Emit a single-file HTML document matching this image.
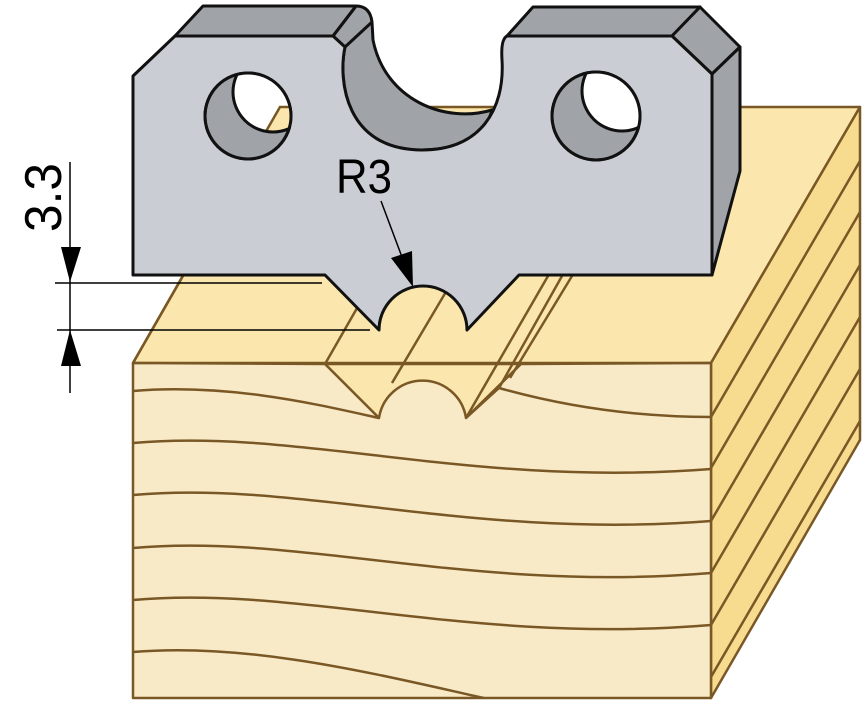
<!DOCTYPE html>
<html><head><meta charset="utf-8"><style>html,body{margin:0;padding:0;background:#fff;}svg{display:block}</style></head>
<body>
<svg width="868" height="705" viewBox="0 0 868 705" xmlns="http://www.w3.org/2000/svg">
<defs>
<clipPath id="rf"><polygon points="711,363 860,107 860,440 711,698"/></clipPath>
<clipPath id="h1"><circle cx="248" cy="116" r="43"/></clipPath>
<clipPath id="w1"><circle cx="273" cy="92" r="40"/></clipPath>
<clipPath id="h2"><circle cx="596" cy="116" r="44"/></clipPath>
<clipPath id="w2"><circle cx="622" cy="91" r="40"/></clipPath>
</defs>
<g stroke="#7a5826" stroke-width="2.5" stroke-linejoin="round">
<polygon points="133,363 280,107 860,107 711,363" fill="#fbe7ad"/>
<polygon points="711,363 860,107 860,440 711,698" fill="#f7dc90"/>
<g clip-path="url(#rf)" fill="none">
<line x1="711" y1="417" x2="860" y2="161"/>
<line x1="711" y1="468" x2="860" y2="212"/>
<line x1="711" y1="521" x2="860" y2="265"/>
<line x1="711" y1="573" x2="860" y2="317"/>
<line x1="711" y1="625" x2="860" y2="369"/>
<line x1="711" y1="677" x2="860" y2="421"/>
</g>
<polygon points="325,364 379,418 466,418 521,364" fill="#fbe7ad"/>
<path d="M133,363 L325,364 L379,418 A44,44 0 0 1 466,418 L521,364 L711,363 L711,698 L133,698 Z" fill="#f9eac7"/>
<g fill="none">
<path d="M133,391 C230,383 320,405 379,418"/>
<path d="M499,388 C570,408 640,417 711,417"/>
<path d="M133,443 C300,428 470,488 711,469"/>
<path d="M133,495 C300,480 470,540 711,521"/>
<path d="M133,548 C300,533 470,593 711,573"/>
<path d="M133,600 C300,585 470,645 711,625"/>
<path d="M133,652 C250,642 380,675 484,698"/>
<line x1="325" y1="364" x2="372" y2="282"/>
<line x1="392" y1="383" x2="450" y2="285"/>
<line x1="466" y1="418" x2="548" y2="276"/>
<line x1="466" y1="418" x2="499" y2="388"/>
<line x1="499" y1="388" x2="562" y2="276"/>
<line x1="510" y1="378" x2="572" y2="276"/>
<line x1="133" y1="363" x2="185" y2="272"/>
</g>
</g>
<g stroke="#111" stroke-width="3" stroke-linejoin="round">
<path d="M333,36 L345,47 C338,80 345,150 422,150 C466,150 488,128 492,110 C445,124 385,100 373,40 L372,22 Q370,6 356,6 Z" fill="#a0a3a8"/>
<polygon points="175,36 203,6 356,6 333,36" fill="#a0a3a8"/>
<polygon points="507,36 533,7 700,7 672,36" fill="#a0a3a8"/>
<polygon points="672,36 700,7 740,47 712,74" fill="#a0a3a8"/>
<polygon points="712,74 740,47 740,171 712,275" fill="#a0a3a8"/>
<line x1="333" y1="36" x2="356" y2="6" fill="none"/>
<line x1="345" y1="47" x2="372" y2="22" fill="none"/>
<path d="M133,76 L175,36 L333,36 L345,47 C338,80 345,150 422,150 C480,150 505,110 502,60 C501,45 503,38 507,36 L672,36 L712,74 L712,275 L519,275 L467,330 A44,44 0 0 0 379,330 L325,275 L133,275 Z" fill="#cacdd3"/>
<circle cx="248" cy="116" r="43" fill="#a0a3a8"/>
<circle cx="596" cy="116" r="44" fill="#a0a3a8"/>
</g>
<g clip-path="url(#h1)"><g clip-path="url(#w1)">
<rect x="200" y="40" width="140" height="140" fill="#fff"/>
<polygon points="133,363 280,107 860,107 711,363" fill="#fbe7ad" stroke="#7a5826" stroke-width="2.5"/>
</g></g>
<g clip-path="url(#h2)"><g clip-path="url(#w2)">
<rect x="550" y="40" width="140" height="140" fill="#fff"/>
</g></g>
<g fill="none" stroke="#111" stroke-width="3">
<circle cx="273" cy="92" r="40" clip-path="url(#h1)"/>
<circle cx="622" cy="91" r="40" clip-path="url(#h2)"/>
<circle cx="248" cy="116" r="43"/>
<circle cx="596" cy="116" r="44"/>
</g>
<line x1="381" y1="201" x2="405" y2="265" stroke="#000" stroke-width="1.5"/>
<polygon points="413,287 391,258 412,251" fill="#000"/>
<text x="336" y="193" font-family="Liberation Sans, sans-serif" font-size="48" textLength="56" lengthAdjust="spacingAndGlyphs" fill="#000">R3</text>
<g stroke="#000" stroke-width="1.5">
<line x1="70" y1="162" x2="70" y2="393"/>
<line x1="55" y1="283" x2="322" y2="283"/>
<line x1="57" y1="330" x2="370" y2="330"/>
</g>
<polygon points="70,282 61,247 81,247" fill="#000"/>
<polygon points="70,330 61,366 81,366" fill="#000"/>
<text transform="translate(61,232) rotate(-90)" font-family="Liberation Sans, sans-serif" font-size="52" textLength="69" lengthAdjust="spacingAndGlyphs" fill="#000">3.3</text>
</svg>
</body></html>
